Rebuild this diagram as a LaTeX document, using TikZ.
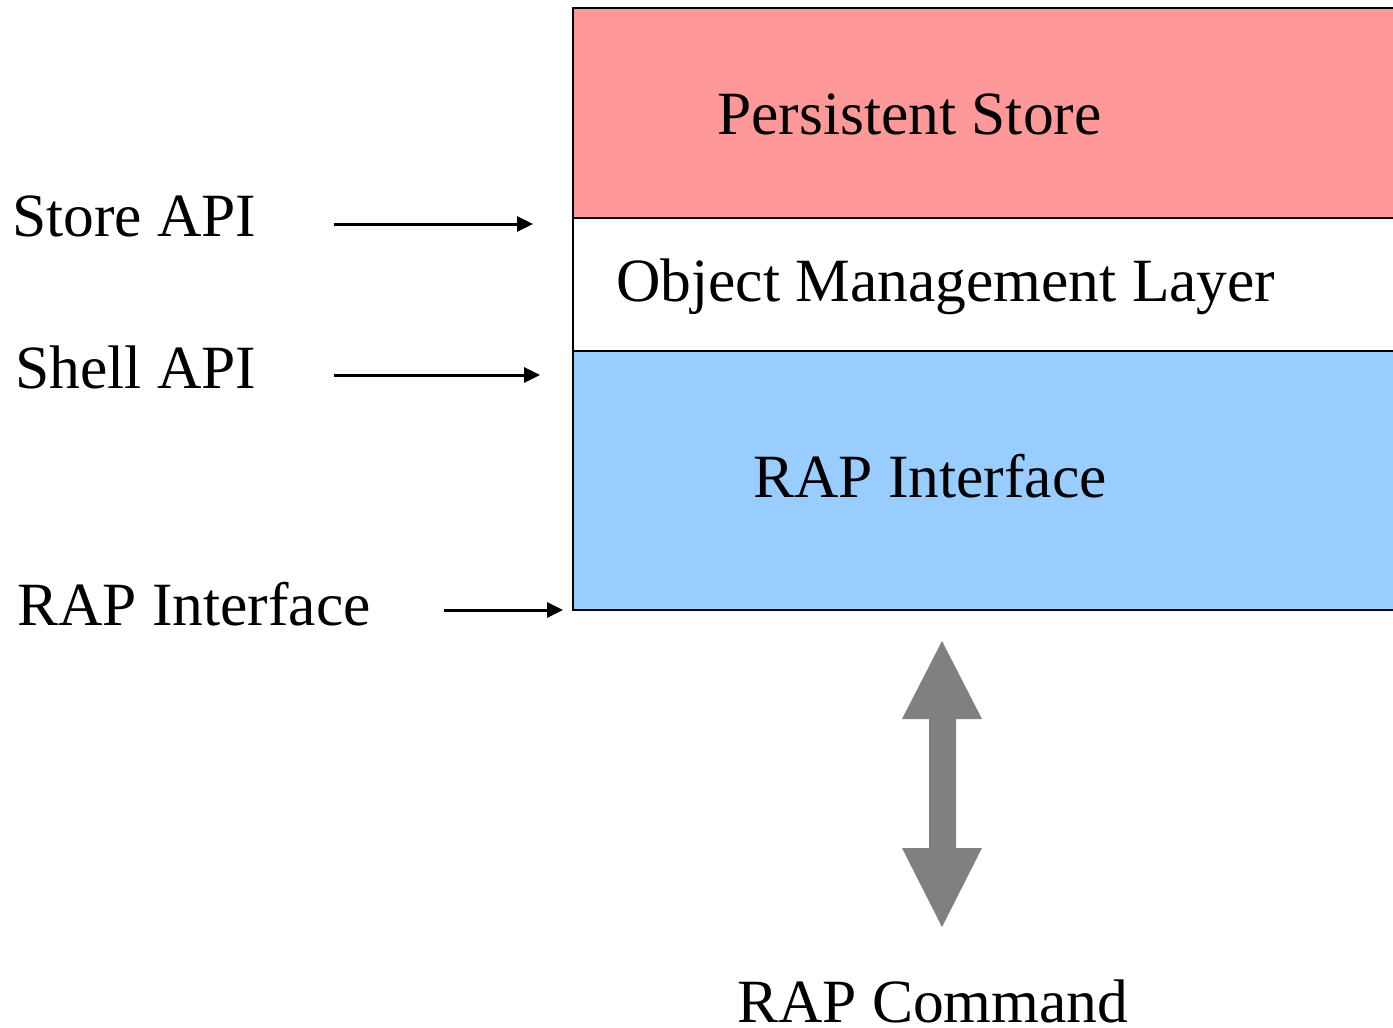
\documentclass[tikz,border=0pt]{standalone}
\usepackage{fontspec}
\setmainfont{Liberation Serif}
\usetikzlibrary{arrows.meta}
\definecolor{pinkfill}{HTML}{FF9999}
\definecolor{bluefill}{HTML}{99CCFF}
\definecolor{arrgray}{HTML}{808080}
\begin{document}
\begin{tikzpicture}[x=1pt,y=-1pt,
  lbl/.style={anchor=base west,inner sep=0pt,font=\fontsize{61.5}{70}\selectfont},
  layer/.style={draw=black,line width=2.5pt},
  feed/.style={line width=3pt,-{Triangle[length=16pt,width=15pt]}}]
\useasboundingbox (0,0) rectangle (1393,1028);
\clip (0,0) rectangle (1393,1028);
% layers
\path[layer,fill=pinkfill] (573,8) rectangle (1410,218);
\path[layer,fill=white] (573,218) rectangle (1410,351);
\path[layer,fill=bluefill] (573,351) rectangle (1410,610);
% layer labels
\node[lbl] (ps) at (717,134) {Persistent Store};
\node[lbl] (oml) at (616,301) {Object Management Layer};
\node[lbl] (rapi) at (753,497) {RAP Interface};
% left labels
\node[lbl] (store) at (12,236) {Store API};
\node[lbl] (shell) at (15,388) {Shell API};
\node[lbl] (rapl) at (17,625) {RAP Interface};
\node[lbl] (cmd) at (737,1022) {RAP Command};
% small arrows
\coordinate (a1s) at (334,224); \coordinate (a1e) at (533,224);
\coordinate (a2s) at (334,375); \coordinate (a2e) at (540,375);
\coordinate (a3s) at (444,610); \coordinate (a3e) at (563,610);
\draw[feed] (a1s) -- (a1e);
\draw[feed] (a2s) -- (a2e);
\draw[feed] (a3s) -- (a3e);
% big double arrow
\fill[arrgray] (942,641) -- (982,719) -- (956,719) -- (956,848) -- (982,848)
  -- (942,927) -- (902,848) -- (929,848) -- (929,719) -- (902,719) -- cycle;
\end{tikzpicture}
\end{document}
